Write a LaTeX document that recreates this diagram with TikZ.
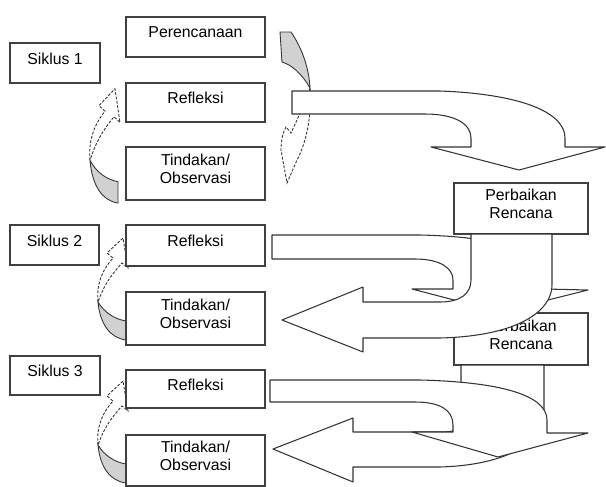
\documentclass[tikz,border=0pt]{standalone}
\usepackage{fontspec}
\setmainfont{Liberation Sans}

\tikzset{
  kotak/.style={draw=black!75, line width=0.6pt, fill=white},
  teks/.style={align=center, yshift=2.5pt, inner sep=0pt},
  panah/.style={draw=black!80, line width=0.6pt, fill=white, line join=round},
  abu/.style={draw=black!80, line width=0.5pt, fill=black!18},
  lengkung/.style={draw=black!80, line width=0.5pt, fill=white, dash pattern=on 1.6pt off 0.9pt}
}

% curved arrow going up on the left side (tindakan -> refleksi)
\newcommand{\lengkungkiri}[2]{%
\begin{scope}[shift={#1}, yscale=#2]
\filldraw[abu] (0,0) .. controls (-16,-2) and (-26,-16) .. (-28,-38)
  .. controls (-22,-28) and (-12,-21) .. (0,-19) -- cycle;
\filldraw[lengkung] (-28,-38) .. controls (-30,-58) and (-22,-72) .. (-13,-82)
  -- (-19,-87) -- (-3,-102) -- (2,-72) -- (-4,-77)
  .. controls (-12,-68) and (-21,-58) .. (-28,-38) -- cycle;
\end{scope}}

\begin{document}
\begin{tikzpicture}[x=0.02cm, y=-0.02cm, font=\fontsize{9}{10.5}\selectfont]
\useasboundingbox (0,0) rectangle (606,487);

% siklus 1
\lengkungkiri{(118,203)}{1.12}
\filldraw[abu] (280,32) -- (291,32) .. controls (302,48) and (309,68) .. (310,88)
  .. controls (302,74) and (292,65) .. (282,62) -- cycle;
\filldraw[lengkung] (310,88) .. controls (312,120) and (305,145) .. (297,160)
  -- (287,183) -- (281,150) .. controls (281,140) and (283,132) .. (286,127)
  -- (291,133) .. controls (298,118) and (306,100) .. (310,88) -- cycle;

\draw[kotak] (10,43) rectangle (100,83) node[midway, teks] (siklus1) {Siklus 1};
\draw[kotak] (126,17) rectangle (265,57) node[midway, teks] (rencana) {Perencanaan};
\draw[kotak] (126,83) rectangle (265,122) node[midway, teks] (refleksi1) {Refleksi};
\draw[kotak] (126,147) rectangle (265,200) node[midway, teks] (tindakan1) {Tindakan/\\Observasi};

\draw[panah] (292,91) -- (440,91) .. controls (520,94) and (565,112) .. (565,138)
  -- (565,147) -- (605,147) -- (519,170) -- (431,147) -- (471,147) -- (471,138)
  .. controls (471,124) and (455,114) .. (425,114) -- (292,114) -- cycle;

% siklus 2
\lengkungkiri{(126,340)}{1}
\draw[kotak] (10,225) rectangle (99,265) node[midway, teks] (siklus2) {Siklus 2};
\draw[kotak] (126,225) rectangle (265,266) node[midway, teks] (refleksi2) {Refleksi};
\draw[kotak] (126,292) rectangle (265,345) node[midway, teks] (tindakan2) {Tindakan/\\Observasi};

\draw[panah] (272,235) -- (420,235) .. controls (510,237) and (545,255) .. (545,278)
  -- (545,289) -- (588,290) -- (500,312) -- (412,289) -- (453,289) -- (453,280)
  .. controls (453,268) and (440,259) .. (415,259) -- (272,259) -- cycle;

\draw[kotak] (454,183) rectangle (588,234) node[midway, teks] (perbaikan1) {Perbaikan\\Rencana};
\draw[kotak] (454,313) rectangle (588,365) node[midway, teks] (perbaikan2) {Perbaikan\\Rencana};

\draw[panah] (471,234) -- (471,280) .. controls (471,294) and (460,302) .. (440,302)
  -- (363,302) -- (363,287) -- (282,320) -- (363,352) -- (363,338) -- (440,338)
  .. controls (520,336) and (552,310) .. (552,285) -- (552,234) -- cycle;

% siklus 3
\lengkungkiri{(126,483)}{1}
\draw[kotak] (10,356) rectangle (100,395) node[midway, teks] (siklus3) {Siklus 3};
\draw[kotak] (126,370) rectangle (265,408) node[midway, teks] (refleksi3) {Refleksi};
\draw[kotak] (126,435) rectangle (265,486) node[midway, teks] (tindakan3) {Tindakan/\\Observasi};

\draw[panah] (461,365) -- (461,420) .. controls (461,430) and (455,432) .. (440,432)
  -- (353,432) -- (353,418) -- (273,449) -- (353,482) -- (353,467) -- (440,467)
  .. controls (510,465) and (544,440) .. (544,415) -- (544,365) -- cycle;

\draw[panah] (270,380) -- (420,380) .. controls (500,382) and (547,395) .. (547,420)
  -- (547,433) -- (588,433) -- (498,457) -- (412,432) -- (453,432) -- (453,425)
  .. controls (453,410) and (440,402) .. (415,402) -- (270,402) -- cycle;

\end{tikzpicture}
\end{document}
